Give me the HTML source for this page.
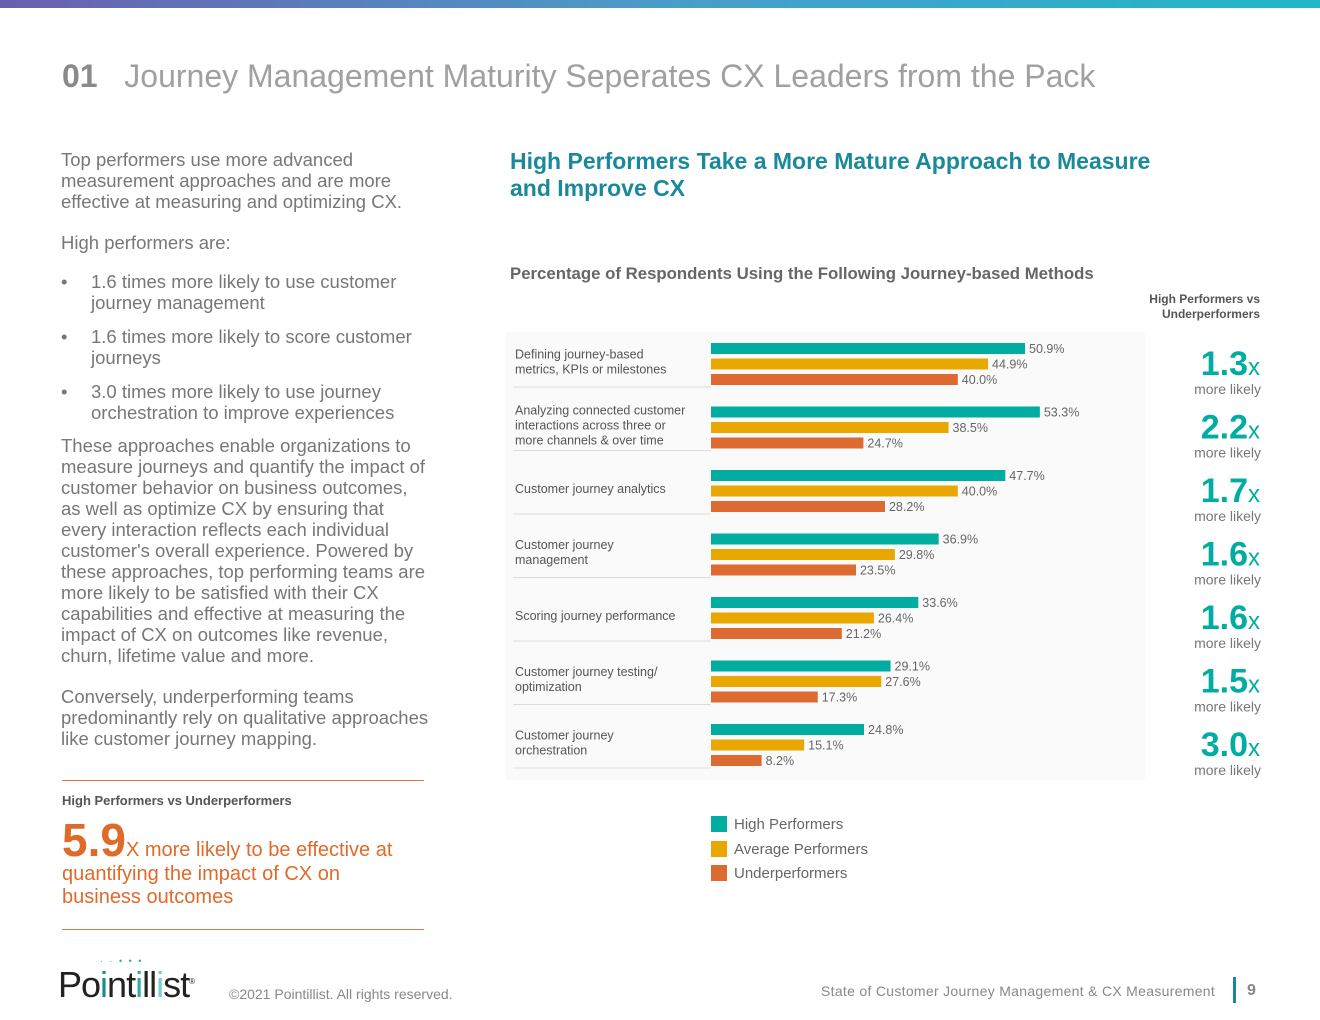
<!DOCTYPE html>
<html><head><meta charset="utf-8"><style>
body{margin:0;width:1320px;height:1020px;background:#fff;font-family:"Liberation Sans",sans-serif;position:relative;overflow:hidden;color:#555}
.abs{position:absolute}
.lt{font-weight:300;color:#666}
</style></head><body>
<div class="abs" style="left:0;top:0;width:1320px;height:8px;background:linear-gradient(90deg,#6a5fb0,#4a9cc8,#21b8c8)"></div>
<div class="abs" style="left:62px;top:58px;font-size:32px;color:#a0a0a0;white-space:nowrap"><b style="color:#8a8a8a">01</b>&nbsp;&nbsp; Journey Management Maturity Seperates CX Leaders from the Pack</div>
<div class="abs lt" style="left:61px;top:149px;width:370px;font-size:18.5px;line-height:21px;color:#777">
<p style="margin:0 0 20px">Top performers use more advanced measurement approaches and are more effective at measuring and optimizing CX.</p>
<p style="margin:0 0 18px">High performers are:</p>
<div style="position:relative;padding-left:30px;margin-bottom:13px"><span style="position:absolute;left:0">•</span>1.6 times more likely to use customer journey management</div>
<div style="position:relative;padding-left:30px;margin-bottom:13px"><span style="position:absolute;left:0">•</span>1.6 times more likely to score customer journeys</div>
<div style="position:relative;padding-left:30px;margin-bottom:12px"><span style="position:absolute;left:0">•</span>3.0 times more likely to use journey orchestration to improve experiences</div>
<p style="margin:0 0 20px">These approaches enable organizations to measure journeys and quantify the impact of customer behavior on business outcomes, as well as optimize CX by ensuring that every interaction reflects each individual customer's overall experience. Powered by these approaches, top performing teams are more likely to be satisfied with their CX capabilities and effective at measuring the impact of CX on outcomes like revenue, churn, lifetime value and more.</p>
<p style="margin:0">Conversely, underperforming teams predominantly rely on qualitative approaches like customer journey mapping.</p>
</div>
<div class="abs" style="left:62px;top:780px;width:362px;height:1px;background:#e07a4a"></div>
<div class="abs" style="left:62px;top:793px;font-size:13px;font-weight:bold;color:#555">High Performers vs Underperformers</div>
<div class="abs" style="left:62px;top:820px;width:335px;font-size:20px;line-height:23.5px;color:#e06a2a"><b style="font-size:46px;line-height:40px">5.9</b>X more likely to be effective at quantifying the impact of CX on business outcomes</div>
<div class="abs" style="left:62px;top:929px;width:362px;height:1px;background:#e07a4a"></div>
<div class="abs" style="left:510px;top:148px;width:680px;font-size:23px;line-height:27px;font-weight:bold;color:#1a8a9a">High Performers Take a More Mature Approach to Measure and Improve CX</div>
<div class="abs" style="left:510px;top:264px;font-size:16.8px;font-weight:bold;color:#666">Percentage of Respondents Using the Following Journey-based Methods</div>
<div class="abs" style="left:1100px;top:292px;width:160px;text-align:right;font-size:12px;font-weight:bold;color:#555;line-height:15px">High Performers vs<br>Underperformers</div>
<div class="abs" style="left:505px;top:332px;width:640px;height:448px;background:#fafafa"></div>
<svg id="chart" class="abs" style="left:0;top:0" width="1320" height="1020"></svg>
<div class="abs" style="left:711px;top:813px;font-size:15px;color:#666;line-height:24.5px">
<div><span style="display:inline-block;width:16px;height:16px;background:#00ada0;vertical-align:-3px;margin-right:7px"></span>High Performers</div>
<div><span style="display:inline-block;width:16px;height:16px;background:#e8a800;vertical-align:-3px;margin-right:7px"></span>Average Performers</div>
<div><span style="display:inline-block;width:16px;height:16px;background:#dd6a30;vertical-align:-3px;margin-right:7px"></span>Underperformers</div>
</div>
<div class="abs" style="left:58px;top:964px;font-size:36px;color:#222;letter-spacing:-1px">Po<span style="color:#1a8a8a">i</span>nt<span style="color:#3aa">i</span>ll<span style="color:#7cc">i</span>st<sup style="font-size:8px">®</sup></div>
<div class="abs" style="left:100px;top:956px;font-size:9px;color:#3aa;letter-spacing:2px">· · • • •</div>
<div class="abs" style="left:229px;top:986px;font-size:14px;color:#888">©2021 Pointillist. All rights reserved.</div>
<div class="abs" style="left:821px;top:983px;font-size:14px;color:#888;letter-spacing:0.3px">State of Customer Journey Management &amp; CX Measurement</div>
<div class="abs" style="left:1233px;top:977px;width:3px;height:26px;background:#1a8a9a"></div>
<div class="abs" style="left:1247px;top:982px;font-size:16px;font-weight:bold;color:#888">9</div>
<script>
const categories=["Defining journey-based\nmetrics, KPIs or milestones","Analyzing connected customer\ninteractions across three or\nmore channels & over time","Customer journey analytics","Customer journey\nmanagement","Scoring journey performance","Customer journey testing/\noptimization","Customer journey\norchestration"];
const highVals=[50.9,53.3,47.7,36.9,33.6,29.1,24.8];
const avgVals=[44.9,38.5,40.0,29.8,26.4,27.6,15.1];
const underVals=[40.0,24.7,28.2,23.5,21.2,17.3,8.2];
const ratios=["1.3","2.2","1.7","1.6","1.6","1.5","3.0"];
const svg=document.getElementById('chart');const NS='http://www.w3.org/2000/svg';
const x0=711,pxPer=6.17;
function xs(v){return x0+v*pxPer;}
function gy(i){return 343+i*63.5;}
function mk(t,a){const e=document.createElementNS(NS,t);for(const k in a)e.setAttribute(k,a[k]);svg.appendChild(e);return e;}
const series=[[highVals,'#00ada0','high'],[avgVals,'#e8a800','avg'],[underVals,'#dd6a30','under']];
categories.forEach((c,i)=>{
 const y=gy(i);
 series.forEach((s,j)=>{
  const v=s[0][i],by=y+j*15.5;
  const r=mk('rect',{x:x0,y:by,width:xs(v)-x0,height:11,fill:s[1]});
  
  
  const t=mk('text',{x:xs(v)+4,y:by+10,'font-size':12.5,fill:'#666','font-family':'Liberation Sans'});
  t.textContent=v.toFixed(1)+'%';
  
  
 });
 const lines=c.split('\n');const cy=y+23-(lines.length-1)*7.5;
 lines.forEach((l,k)=>{const t=mk('text',{x:515,y:cy+k*15,'font-size':12.5,fill:'#555','font-family':'Liberation Sans'});t.textContent=l;
  
  });
 const ln=mk('line',{x1:513,x2:711,y1:y+44,y2:y+44,stroke:'#ddd'});
 
 
 const rt=mk('text',{x:1260,y:y+32,'text-anchor':'end','font-family':'Liberation Sans',fill:'#00ada0'});
 rt.innerHTML='<tspan font-size="34" font-weight="bold">'+ratios[i]+'</tspan><tspan font-size="24">x</tspan>';
 
 
 const ml=mk('text',{x:1261,y:y+51,'text-anchor':'end','font-size':14,fill:'#777','font-family':'Liberation Sans'});ml.textContent='more likely';
 
 
});
</script>
</body></html>
